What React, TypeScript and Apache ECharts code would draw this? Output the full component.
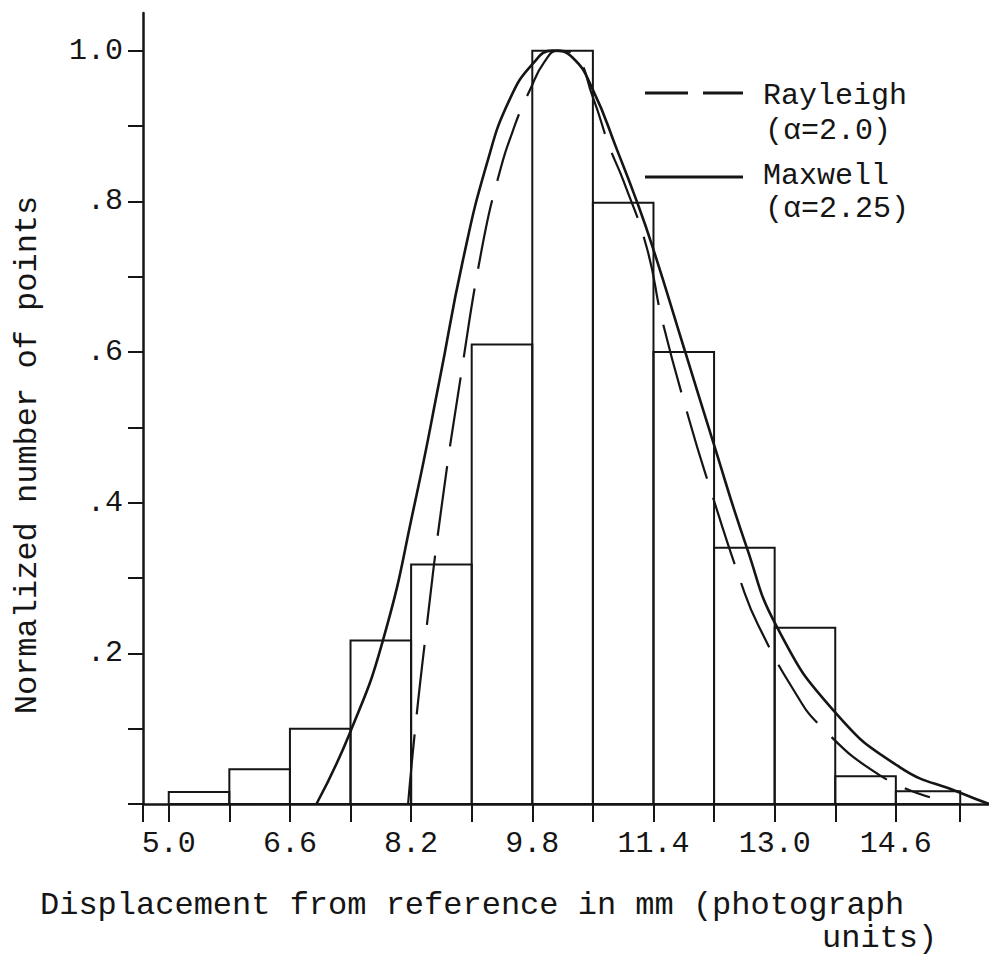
import React, { useEffect, useRef } from 'react';
import * as echarts from 'echarts';

// Histogram bins (mm) and normalized heights
const binEdges = [5.0, 5.8, 6.6, 7.4, 8.2, 9.0, 9.8, 10.6, 11.4, 12.2, 13.0, 13.8, 14.6, 15.45];
const binHeights = [0.016, 0.046, 0.10, 0.217, 0.318, 0.61, 1.0, 0.798, 0.60, 0.34, 0.234, 0.037, 0.017];

// Axis ticks / labels
const xMin = 4.66;
const xMax = 15.83;
const yMax = 1.05;
const xLabelValues = [5.0, 6.6, 8.2, 9.8, 11.4, 13.0, 14.6];
const yTickValues = [0, 0.1, 0.2, 0.3, 0.4, 0.5, 0.6, 0.7, 0.8, 0.9, 1.0];
const yLabelValues = [0.2, 0.4, 0.6, 0.8, 1.0];
const yLabelTexts = ['.2', '.4', '.6', '.8', '1.0'];

// Maxwell fit (solid)
const maxwellX = [6.95, 7.39, 7.83, 8.25, 8.58, 8.88, 9.2, 9.5, 9.81, 10.07, 10.33, 10.6, 10.92, 11.18, 11.39, 11.81, 12.18, 12.63, 13.03, 13.77, 14.65, 15.45, 15.83];
const maxwellY = [0, 0.094, 0.218, 0.4, 0.565, 0.72, 0.85, 0.935, 0.983, 1.0, 0.991, 0.948, 0.868, 0.8, 0.739, 0.603, 0.483, 0.341, 0.235, 0.125, 0.049, 0.015, 0.0];

// Rayleigh fit (dashed)
const rayleighX = [8.16, 8.25, 8.39, 8.6, 8.86, 9.13, 9.34, 9.57, 9.77, 9.96, 10.14, 10.36, 10.6, 10.82, 11.0, 11.31, 11.52, 11.88, 12.1, 12.59, 12.78, 13.24, 13.62, 14.39, 15.05];
const rayleighY = [0, 0.096, 0.222, 0.393, 0.57, 0.735, 0.828, 0.901, 0.948, 0.985, 1.0, 0.994, 0.938, 0.872, 0.828, 0.739, 0.64, 0.507, 0.434, 0.284, 0.238, 0.153, 0.102, 0.038, 0.009];

const FONT = '"Liberation Mono", "Courier New", monospace';
const INK = '#151515';

export default function App() {
  const ref = useRef<HTMLDivElement>(null);
  useEffect(() => {
    if (!ref.current) return;
    const chart = echarts.init(ref.current, undefined, { renderer: 'svg' });
    const bars = binHeights.map((h, i) => [binEdges[i], binEdges[i + 1], h]);
    const option: any = {
      animation: false,
      backgroundColor: '#ffffff',
      grid: { left: 143, right: 0, top: 13, bottom: 154, containLabel: false, outerBoundsMode: 'none' },
      xAxis: {
        type: 'value',
        min: xMin,
        max: xMax,
        axisLine: { show: true, onZero: false, lineStyle: { color: INK, width: 2.5 } },
        axisTick: { show: true, length: 18, inside: false, customValues: [xMin, ...binEdges], lineStyle: { color: INK, width: 2 } },
        axisLabel: {
          show: true,
          customValues: xLabelValues,
          formatter: (v: number) => v.toFixed(1),
          margin: 25,
          fontFamily: FONT,
          fontSize: 30,
          color: INK,
        },
        splitLine: { show: false },
      },
      yAxis: {
        type: 'value',
        min: 0,
        max: yMax,
        axisLine: { show: true, onZero: false, lineStyle: { color: INK, width: 2.5 } },
        axisTick: { show: true, length: 15, inside: false, customValues: yTickValues, lineStyle: { color: INK, width: 2 } },
        axisLabel: {
          show: true,
          customValues: yLabelValues,
          formatter: (v: number) => {
            const i = yLabelValues.findIndex((t) => Math.abs(t - v) < 1e-6);
            return i >= 0 ? yLabelTexts[i] : '';
          },
          margin: 20,
          fontFamily: FONT,
          fontSize: 30,
          color: INK,
        },
        splitLine: { show: false },
      },
      series: [
        {
          name: 'Histogram',
          type: 'custom',
          data: bars,
          encode: { x: [0, 1], y: 2 },
          renderItem: (params: any, api: any) => {
            const x0 = api.value(0);
            const x1 = api.value(1);
            const h = api.value(2);
            const p0 = api.coord([x0, h]);
            const p1 = api.coord([x1, 0]);
            return {
              type: 'rect',
              shape: { x: p0[0], y: p0[1], width: p1[0] - p0[0], height: p1[1] - p0[1] },
              style: { fill: 'none', stroke: INK, lineWidth: 2 },
            };
          },
          z: 2,
        },
        {
          name: 'Maxwell (α=2.25)',
          type: 'line',
          data: maxwellX.map((x, i) => [x, maxwellY[i]]),
          smooth: 0.5,
          showSymbol: false,
          symbol: 'none',
          lineStyle: { color: INK, width: 2.6 },
          z: 3,
        },
        {
          name: 'Rayleigh (α=2.0)',
          type: 'line',
          data: rayleighX.map((x, i) => [x, rayleighY[i]]),
          smooth: 0.5,
          showSymbol: false,
          symbol: 'none',
          lineStyle: { color: INK, width: 2.2, type: [70, 20] },
          z: 3,
        },
      ],
      graphic: [
        {
          type: 'line',
          shape: { x1: 645, y1: 93, x2: 743, y2: 93 },
          style: { stroke: INK, lineWidth: 3, lineDash: [43, 15] },
        },
        {
          type: 'text', x: 763, y: 96,
          style: { text: 'Rayleigh', font: `30px ${FONT}`, fill: INK, align: 'left', verticalAlign: 'middle' },
        },
        {
          type: 'text', x: 765, y: 131,
          style: { text: '(α=2.0)', font: `30px ${FONT}`, fill: INK, align: 'left', verticalAlign: 'middle' },
        },
        {
          type: 'line',
          shape: { x1: 645, y1: 177, x2: 743, y2: 177 },
          style: { stroke: INK, lineWidth: 3 },
        },
        {
          type: 'text', x: 763, y: 176,
          style: { text: 'Maxwell', font: `30px ${FONT}`, fill: INK, align: 'left', verticalAlign: 'middle' },
        },
        {
          type: 'text', x: 765, y: 209,
          style: { text: '(α=2.25)', font: `30px ${FONT}`, fill: INK, align: 'left', verticalAlign: 'middle' },
        },
        {
          type: 'text', x: 27, y: 455, rotation: Math.PI / 2,
          style: { text: 'Normalized number of points', font: `32px ${FONT}`, fill: INK, align: 'center', verticalAlign: 'middle' },
        },
        {
          type: 'text', x: 40, y: 905,
          style: { text: 'Displacement from reference in mm (photograph', font: `32px ${FONT}`, fill: INK, align: 'left', verticalAlign: 'middle' },
        },
        {
          type: 'text', x: 822, y: 938,
          style: { text: 'units)', font: `32px ${FONT}`, fill: INK, align: 'left', verticalAlign: 'middle' },
        },
      ],
    };
    chart.setOption(option);
    return () => chart.dispose();
  }, []);
  return (
    <div
      ref={ref}
      style={{ position: 'absolute', left: 0, top: 0, width: 989, height: 958, background: '#fff' }}
    />
  );
}
